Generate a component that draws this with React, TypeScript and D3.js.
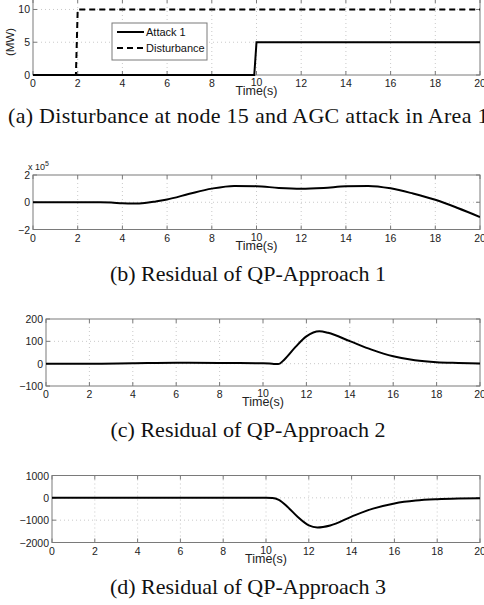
import * as d3 from 'd3';
import React from 'react';

// time axis shared by all four panels
const xTicks = [0, 2, 4, 6, 8, 10, 12, 14, 16, 18, 20];

// (a) inputs
const attackT = [0, 9.9, 10, 20];
const attackV = [0, 0, 5, 5];
const distT = [0, 1.92, 2, 20];
const distV = [0, 0, 10, 10];

// (b) residual of QP-approach 1 (x 10^5)
const r1T = [0, 1, 2, 3, 3.5, 4, 4.5, 5, 5.5, 6, 7, 8, 9, 10, 11, 12, 13, 14, 15, 16, 17, 18, 19, 20];
const r1V = [0, 0, 0, 0, -0.02, -0.08, -0.1, -0.06, 0.06, 0.2, 0.62, 1.0, 1.2, 1.18, 1.05, 0.99, 1.05, 1.17, 1.2, 1.02, 0.64, 0.18, -0.42, -1.08];

// (c) residual of QP-approach 2
const r2T = [0, 2, 4, 6, 8, 10, 10.5, 10.7, 11, 11.5, 12, 12.6, 13, 14, 15, 16, 17, 18, 19, 20];
const r2V = [0, 0, 2, 4, 3, 2, -1, -2, 20, 75, 122, 145, 138, 101, 63, 33, 15, 6, 3, 1];

// (d) residual of QP-approach 3
const r3T = [0, 5, 10, 10.3, 10.6, 11, 11.5, 12, 12.4, 13, 14, 15, 16, 17, 18, 19, 20];
const r3V = [0, 0, 0, -5, -90, -400, -870, -1235, -1325, -1235, -840, -485, -250, -120, -60, -30, -15];

const ySetA = [0, 5, 10];
const ySetB = [-2, 0, 2];
const ySetC = [-100, 0, 100, 200];
const ySetD = [-2000, -1000, 0, 1000];

const captions = [
  '(a) Disturbance at node 15 and AGC attack in Area 1',
  '(b) Residual of QP-Approach 1',
  '(c) Residual of QP-Approach 2',
  '(d) Residual of QP-Approach 3',
];

const sans = 'Liberation Sans, Arial, sans-serif';
const serif = 'Liberation Serif, Times New Roman, serif';
const boxColor = '#7a7a7a';
const capSize = 22;

const fmt = (v) => String(v).replace('-', '\u2212');

const Panel = ({ left, right, top, bottom, yDomain, yTicks, series }) => {
  const x = d3.scaleLinear().domain([0, 20]).range([left, right]);
  const y = d3.scaleLinear().domain(yDomain).range([bottom, top]);
  const line = d3
    .line()
    .x((d) => x(d[0]))
    .y((d) => y(d[1]));
  const clipId = 'clip' + Math.round(top);
  return (
    <g>
      <defs>
        <clipPath id={clipId}>
          <rect x={left} y={top - 2} width={right - left} height={bottom - top + 4} />
        </clipPath>
      </defs>
      {/* grid */}
      {xTicks.slice(1, -1).map((t) => (
        <line key={'gx' + t} x1={x(t)} x2={x(t)} y1={top} y2={bottom} stroke="#bbb" strokeWidth={0.8} strokeDasharray="1,3" />
      ))}
      {yTicks
        .filter((t) => y(t) > top + 0.5 && y(t) < bottom - 0.5)
        .map((t) => (
          <line key={'gy' + t} x1={left} x2={right} y1={y(t)} y2={y(t)} stroke="#bbb" strokeWidth={0.8} strokeDasharray="1,3" />
        ))}
      {/* ticks */}
      {xTicks.map((t) => (
        <g key={'tx' + t}>
          <line x1={x(t)} x2={x(t)} y1={bottom} y2={bottom - 4} stroke={boxColor} />
          <line x1={x(t)} x2={x(t)} y1={top} y2={top + 4} stroke={boxColor} />
          <text x={x(t)} y={bottom + 12} textAnchor="middle" fontFamily={sans} fontSize={10.5} fill="#222" dy={t === 10 ? -1 : 0}>
            {t}
          </text>
        </g>
      ))}
      {yTicks.map((t) => (
        <g key={'ty' + t}>
          <line x1={left} x2={left + 4} y1={y(t)} y2={y(t)} stroke={boxColor} />
          <line x1={right} x2={right - 4} y1={y(t)} y2={y(t)} stroke={boxColor} />
          <text x={left - 3} y={y(t) + 4} textAnchor="end" fontFamily={sans} fontSize={10.5} fill="#222">
            {fmt(t)}
          </text>
        </g>
      ))}
      <rect x={left} y={top} width={right - left} height={bottom - top} fill="none" stroke={boxColor} strokeWidth={1} />
      <text x={(left + right) / 2} y={bottom + 20} textAnchor="middle" fontFamily={sans} fontSize={12.5} fill="#222">
        Time(s)
      </text>
      <g clipPath={`url(#${clipId})`}>
        {series.map((s, i) => (
          <path
            key={i}
            d={line.curve(s.curve || d3.curveLinear)(s.t.map((t, j) => [t, s.v[j]]))}
            fill="none"
            stroke="#000"
            strokeWidth={2}
            strokeDasharray={s.dash || null}
          />
        ))}
      </g>
    </g>
  );
};

export default function App() {
  return (
    <svg width={484} height={605} style={{ position: 'absolute', left: 0, top: 0, background: '#fff' }}>
      <rect width={484} height={605} fill="#fff" />
      {/* (a) */}
      <Panel
        left={33}
        right={480}
        top={-1}
        bottom={75}
        yDomain={[0, 11.6]}
        yTicks={ySetA}
        series={[
          { t: distT, v: distV, dash: '6,4' },
          { t: attackT, v: attackV },
        ]}
      />
      <text transform="translate(14,42) rotate(-90)" textAnchor="middle" fontFamily={sans} fontSize={11.5} fill="#222">
        (MW)
      </text>
      <g>
        <rect x={112} y={23} width={95} height={37} fill="#fff" stroke={boxColor} />
        <line x1={117} x2={144} y1={32} y2={32} stroke="#000" strokeWidth={2} />
        <text x={146} y={36} fontFamily={sans} fontSize={11} fill="#111">
          Attack 1
        </text>
        <line x1={117} x2={144} y1={48} y2={48} stroke="#000" strokeWidth={2} strokeDasharray="6,4" />
        <text x={146} y={52} fontFamily={sans} fontSize={11} fill="#111">
          Disturbance
        </text>
      </g>
      <text x={8} y={123} fontFamily={serif} fontSize={capSize} letterSpacing={0.3} fill="#111">
        {captions[0]}
      </text>

      {/* (b) */}
      <Panel
        left={33}
        right={480}
        top={175}
        bottom={229.5}
        yDomain={[-2, 2]}
        yTicks={ySetB}
        series={[{ t: r1T, v: r1V, curve: d3.curveMonotoneX }]}
      />
      <text x={28} y={170} fontFamily={sans} fontSize={9} fill="#222">
        x 10
        <tspan dy={-4} fontSize={7}>
          5
        </tspan>
      </text>
      <text x={248} y={281} textAnchor="middle" fontFamily={serif} fontSize={capSize} fill="#111">
        {captions[1]}
      </text>

      {/* (c) */}
      <Panel
        left={46}
        right={480}
        top={319}
        bottom={386}
        yDomain={[-100, 200]}
        yTicks={ySetC}
        series={[{ t: r2T, v: r2V, curve: d3.curveMonotoneX }]}
      />
      <text x={248} y={437} textAnchor="middle" fontFamily={serif} fontSize={capSize} fill="#111">
        {captions[2]}
      </text>

      {/* (d) */}
      <Panel
        left={52}
        right={480}
        top={475.5}
        bottom={542.5}
        yDomain={[-2000, 1000]}
        yTicks={ySetD}
        series={[{ t: r3T, v: r3V, curve: d3.curveMonotoneX }]}
      />
      <text x={248} y={594} textAnchor="middle" fontFamily={serif} fontSize={capSize} fill="#111">
        {captions[3]}
      </text>
    </svg>
  );
}
